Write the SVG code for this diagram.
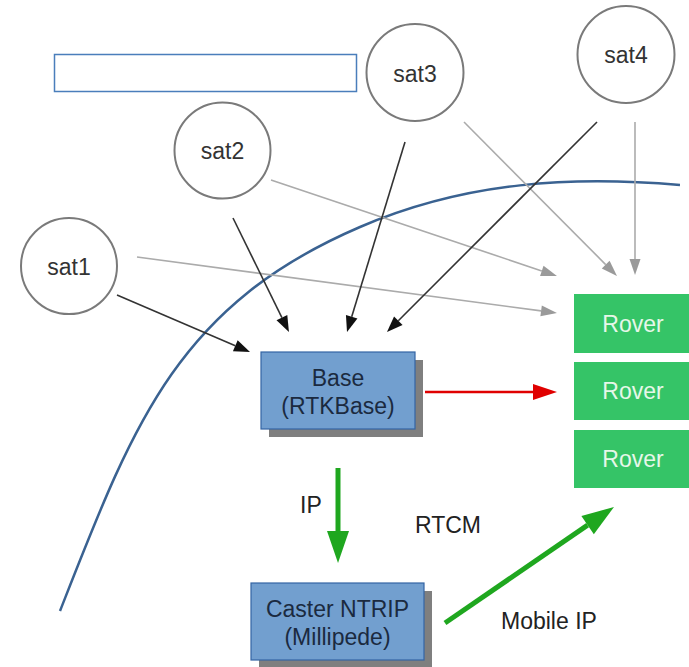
<svg xmlns="http://www.w3.org/2000/svg" width="689" height="667" viewBox="0 0 689 667">
  <style>
    text { font-family: "Liberation Sans", Arial, sans-serif; font-size: 23px; }
    .sat circle { fill: #ffffff; stroke: #7a7a7a; stroke-width: 2; }
    .sat text { fill: #333333; text-anchor: middle; }
    .box rect.main { fill: #729fcf; stroke: #3465a4; stroke-width: 1.2; }
    .box rect.shadow { fill: #7f7f7f; }
    .box text { fill: #1b2a3f; text-anchor: middle; }
    .rover rect { fill: #35c467; }
    .rover text { fill: #e6f7e9; text-anchor: middle; }
    .lbl { fill: #222222; }
    .blk { stroke: #333333; stroke-width: 1.6; fill: none; marker-end: url(#mBlack); }
    .gry { stroke: #ababab; stroke-width: 1.6; fill: none; marker-end: url(#mGray); }
    .red { stroke: #e00000; stroke-width: 2.5; fill: none; marker-end: url(#mRed); }
    .grn { stroke: #1fa71f; stroke-width: 5; fill: none; marker-end: url(#mGreen); }
  </style>
  <defs>
    <marker id="mBlack" markerUnits="userSpaceOnUse" markerWidth="17" markerHeight="13" refX="0" refY="6.5" orient="auto" overflow="visible">
      <path d="M0,0.5 L16,6.5 L0,12.5 z" fill="#111111"/>
    </marker>
    <marker id="mGray" markerUnits="userSpaceOnUse" markerWidth="17" markerHeight="12" refX="0" refY="6" orient="auto" overflow="visible">
      <path d="M0,0.5 L16,6 L0,11.5 z" fill="#9a9a9a"/>
    </marker>
    <marker id="mRed" markerUnits="userSpaceOnUse" markerWidth="25" markerHeight="17" refX="0" refY="8" orient="auto" overflow="visible">
      <path d="M0,0 L24,8 L0,16 z" fill="#e00000"/>
    </marker>
    <marker id="mGreen" markerUnits="userSpaceOnUse" markerWidth="33" markerHeight="23" refX="0" refY="11" orient="auto" overflow="visible">
      <path d="M0,0 L32,11 L0,22 z" fill="#1fa71f"/>
    </marker>
  </defs>

  <rect width="689" height="667" fill="#ffffff"/>

  <!-- empty title box -->
  <rect id="titlebox" x="54.5" y="54.5" width="302" height="37" fill="#ffffff" stroke="#4a7ebb" stroke-width="1.5"/>

  <!-- horizon curve -->
  <path id="horizon" d="M60,611 C133,425 176,306 360,227 C467,181 573,176 680,185" fill="none" stroke="#3a6291" stroke-width="2.5"/>

  <g id="connectors">
    <path class="gry" d="M271,180 L541.8,270.9"/>
    <path class="gry" d="M137,257 L541.1,310.9"/>
    <path class="gry" d="M464,122 L605.7,264.6"/>
    <path class="gry" d="M635,122 L635,259"/>
    <path class="blk" d="M117,295 L235.3,345.7"/>
    <path class="blk" d="M233,218 L281.9,317.6"/>
    <path class="blk" d="M405,142 L351.7,316.7"/>
    <path class="blk" d="M597,122 L398.3,320.7"/>
    <path class="red" d="M425,392 L533,392"/>
    <path class="grn" d="M338,468 L338,531"/>
    <path class="grn" d="M445,623 L587.6,525.1"/>
  </g>

  <g id="sat1" class="sat">
    <circle cx="69" cy="266" r="48"/>
    <text x="69" y="274.5">sat1</text>
  </g>
  <g id="sat2" class="sat">
    <circle cx="222.5" cy="150.5" r="48"/>
    <text x="222.5" y="159.3">sat2</text>
  </g>
  <g id="sat3" class="sat">
    <circle cx="415" cy="72.5" r="48.5"/>
    <text x="415" y="81.5">sat3</text>
  </g>
  <g id="sat4" class="sat">
    <circle cx="626" cy="54.5" r="48.5"/>
    <text x="626" y="63.3">sat4</text>
  </g>

  <g id="base" class="box">
    <rect class="shadow" x="269" y="360" width="154" height="77"/>
    <rect class="main" x="261" y="352" width="154" height="77"/>
    <text x="338" y="386">Base</text>
    <text x="338" y="414">(RTKBase)</text>
  </g>

  <g id="caster" class="box">
    <rect class="shadow" x="259" y="591" width="173" height="76"/>
    <rect class="main" x="251" y="583" width="173" height="77"/>
    <text x="337.5" y="617">Caster NTRIP</text>
    <text x="337.5" y="645">(Millipede)</text>
  </g>

  <g id="rover1" class="rover">
    <rect x="574" y="294" width="120" height="59"/>
    <text x="633" y="332">Rover</text>
  </g>
  <g id="rover2" class="rover">
    <rect x="574" y="362" width="120" height="58"/>
    <text x="633" y="399">Rover</text>
  </g>
  <g id="rover3" class="rover">
    <rect x="574" y="430" width="120" height="58"/>
    <text x="633" y="467">Rover</text>
  </g>

  <text class="lbl" x="300" y="513">IP</text>
  <text class="lbl" x="415" y="532.5">RTCM</text>
  <text class="lbl" x="501" y="628.5">Mobile IP</text>
</svg>
